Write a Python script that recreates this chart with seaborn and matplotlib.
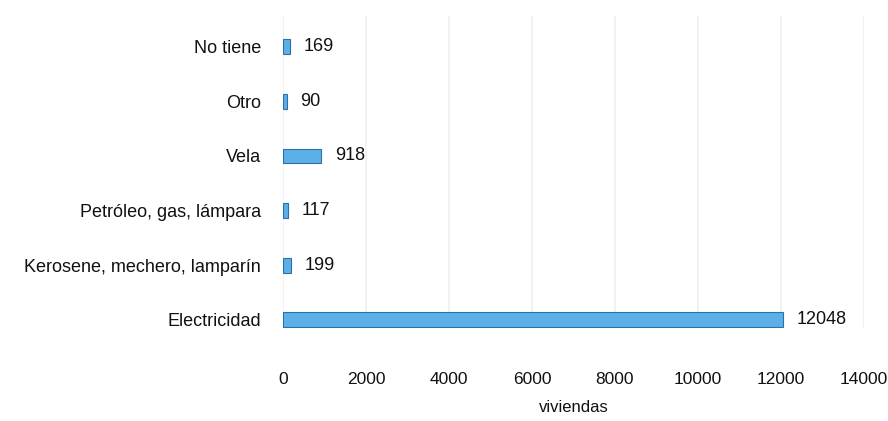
import matplotlib
matplotlib.use("Agg")
import matplotlib.pyplot as plt
import matplotlib.transforms as mtransforms
import seaborn as sns
import pandas as pd

categorias = ["No tiene", "Otro", "Vela", "Petróleo, gas, lámpara",
              "Kerosene, mechero, lamparín", "Electricidad"]
viviendas = [169, 90, 918, 117, 199, 12048]
ticks_x = [0, 2000, 4000, 6000, 8000, 10000, 12000, 14000]

df = pd.DataFrame({"categoria": categorias, "viviendas": viviendas})

sns.set_theme(style="white")
plt.rcParams['font.family'] = ['Liberation Sans', 'DejaVu Sans']

fig = plt.figure(figsize=(8.88, 4.21), dpi=100)
ax = fig.add_axes([283/888, 1 - 328/421, 581/888, (328 - 16)/421])

sns.barplot(data=df, x="viviendas", y="categoria", orient="h", ax=ax,
            color="#5cb0e8", edgecolor="#2f6fa8", linewidth=0.8,
            width=0.27, saturation=1)

fs = 13
for i, v in enumerate(viviendas):
    ax.text(v + 330, i, str(v), va="center", ha="left",
            fontsize=fs, color="#111111")

ax.set_xlim(0, 14000)
ax.set_ylim(5.15, -0.56)
ax.set_xticks(ticks_x)
ax.set_xticklabels([str(t) for t in ticks_x], fontsize=12.5, color="#111111")
offset = mtransforms.ScaledTranslation(-6/100, 0, fig.dpi_scale_trans)
for lbl in ax.get_xticklabels():
    lbl.set_transform(lbl.get_transform() + offset)
ax.tick_params(axis="y", labelsize=fs, labelcolor="#111111", length=0, pad=16)
ax.tick_params(axis="x", length=0, pad=32)
ax.set_ylabel("")
ax.set_xlabel("viviendas", fontsize=12, color="#111111", labelpad=9)
ax.xaxis.grid(True, color="#eef1f3", linewidth=1.2)
ax.set_axisbelow(True)
for s in ax.spines.values():
    s.set_visible(False)

fig.savefig("out.png", dpi=100)
